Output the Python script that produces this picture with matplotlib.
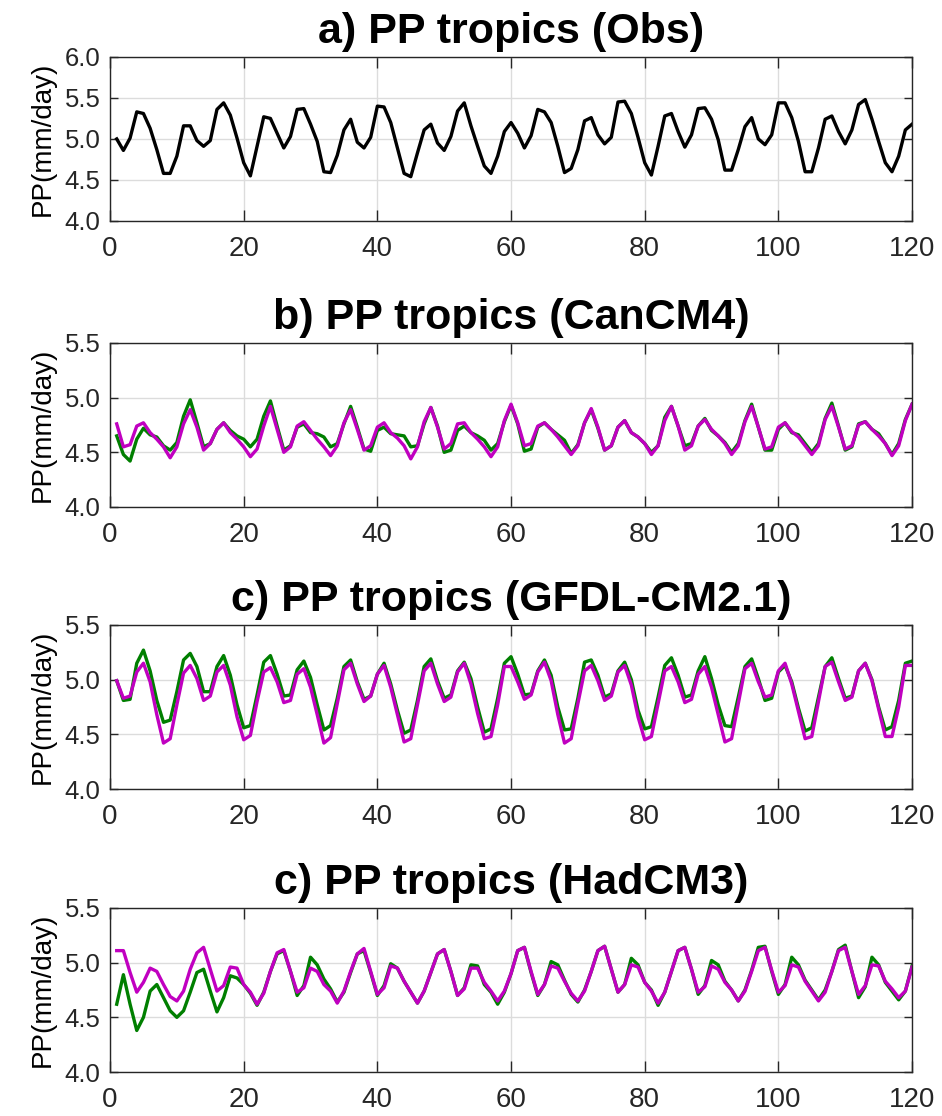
#!/usr/bin/env python3
"""
PP tropics: observed vs. model precipitation series (4 stacked panels).

Run:  python plot.py
"""

import matplotlib as mpl
import matplotlib.pyplot as plt
import numpy as np

for k, v in {
    "font.family": "sans-serif",
    "font.sans-serif": ["Liberation Sans", "Arial", "DejaVu Sans"],
    "font.size": 15,
    "axes.linewidth": 1.0,
    "axes.edgecolor": "#262626",
    "xtick.color": "#262626",
    "ytick.color": "#262626",
    "xtick.labelcolor": "#262626",
    "ytick.labelcolor": "#262626",
    "figure.facecolor": "white",
}.items():
    mpl.rcParams[k] = v

GREEN = "#007f00"
MAGENTA = "#c000c0"
BLACK = "#000000"

# ---- data -------------------------------------------------------------
months = np.arange(1, 121)

obs = [
    5.00, 4.86, 5.01, 5.33, 5.31, 5.13, 4.87, 4.58, 4.58, 4.79,
    5.16, 5.16, 4.98, 4.91, 4.98, 5.36, 5.44, 5.29, 5.01, 4.71,
    4.55, 4.91, 5.27, 5.25, 5.07, 4.89, 5.03, 5.36, 5.37, 5.18,
    4.97, 4.60, 4.59, 4.80, 5.11, 5.24, 4.96, 4.89, 5.02, 5.40,
    5.39, 5.20, 4.89, 4.58, 4.54, 4.83, 5.11, 5.18, 4.95, 4.86,
    5.03, 5.34, 5.44, 5.16, 4.91, 4.67, 4.58, 4.79, 5.09, 5.20,
    5.07, 4.89, 5.04, 5.36, 5.33, 5.20, 4.91, 4.59, 4.64, 4.87,
    5.22, 5.26, 5.05, 4.94, 5.02, 5.45, 5.46, 5.31, 5.02, 4.71,
    4.56, 4.91, 5.28, 5.31, 5.09, 4.90, 5.05, 5.37, 5.38, 5.24,
    4.99, 4.62, 4.62, 4.87, 5.15, 5.26, 5.00, 4.93, 5.05, 5.44,
    5.44, 5.26, 4.97, 4.60, 4.60, 4.89, 5.24, 5.28, 5.09, 4.94,
    5.11, 5.42, 5.48, 5.24, 4.97, 4.71, 4.60, 4.79, 5.11, 5.18,
]

cancm4_green = [
    4.65, 4.48, 4.42, 4.62, 4.72, 4.66, 4.64, 4.56, 4.52, 4.59,
    4.83, 4.98, 4.77, 4.55, 4.58, 4.71, 4.77, 4.70, 4.65, 4.62,
    4.55, 4.62, 4.83, 4.97, 4.74, 4.52, 4.56, 4.73, 4.76, 4.68,
    4.67, 4.64, 4.55, 4.58, 4.76, 4.92, 4.73, 4.53, 4.51, 4.70,
    4.73, 4.67, 4.66, 4.65, 4.55, 4.56, 4.76, 4.91, 4.74, 4.50,
    4.52, 4.70, 4.74, 4.68, 4.65, 4.61, 4.52, 4.58, 4.78, 4.93,
    4.76, 4.51, 4.53, 4.73, 4.77, 4.71, 4.66, 4.61, 4.49, 4.57,
    4.77, 4.89, 4.72, 4.52, 4.56, 4.73, 4.79, 4.68, 4.64, 4.58,
    4.50, 4.56, 4.82, 4.92, 4.74, 4.56, 4.58, 4.74, 4.81, 4.70,
    4.65, 4.59, 4.50, 4.58, 4.79, 4.94, 4.73, 4.52, 4.52, 4.71,
    4.77, 4.68, 4.66, 4.58, 4.50, 4.58, 4.81, 4.95, 4.74, 4.52,
    4.55, 4.76, 4.78, 4.71, 4.67, 4.58, 4.48, 4.58, 4.80, 4.94,
]

cancm4_magenta = [
    4.76, 4.55, 4.57, 4.74, 4.77, 4.68, 4.62, 4.55, 4.45, 4.55,
    4.76, 4.89, 4.73, 4.52, 4.58, 4.71, 4.77, 4.68, 4.62, 4.55,
    4.46, 4.53, 4.74, 4.92, 4.71, 4.50, 4.55, 4.74, 4.78, 4.70,
    4.62, 4.55, 4.47, 4.56, 4.77, 4.89, 4.71, 4.52, 4.56, 4.73,
    4.77, 4.68, 4.63, 4.56, 4.44, 4.55, 4.78, 4.91, 4.73, 4.53,
    4.58, 4.76, 4.77, 4.68, 4.62, 4.55, 4.46, 4.55, 4.79, 4.94,
    4.77, 4.56, 4.58, 4.74, 4.77, 4.71, 4.64, 4.56, 4.48, 4.56,
    4.77, 4.90, 4.73, 4.52, 4.56, 4.73, 4.79, 4.68, 4.64, 4.58,
    4.48, 4.56, 4.79, 4.92, 4.74, 4.52, 4.56, 4.74, 4.80, 4.71,
    4.65, 4.58, 4.48, 4.56, 4.78, 4.92, 4.73, 4.53, 4.55, 4.73,
    4.77, 4.69, 4.64, 4.56, 4.48, 4.56, 4.80, 4.92, 4.73, 4.53,
    4.56, 4.75, 4.78, 4.71, 4.65, 4.58, 4.47, 4.56, 4.79, 4.94,
]

gfdl_green = [
    4.99, 4.81, 4.82, 5.15, 5.27, 5.08, 4.81, 4.61, 4.63, 4.89,
    5.18, 5.24, 5.12, 4.89, 4.89, 5.12, 5.22, 5.04, 4.77, 4.56,
    4.58, 4.86, 5.16, 5.22, 5.05, 4.85, 4.86, 5.09, 5.17, 5.02,
    4.77, 4.54, 4.58, 4.83, 5.12, 5.18, 4.98, 4.82, 4.85, 5.05,
    5.15, 4.96, 4.72, 4.51, 4.54, 4.81, 5.12, 5.19, 4.99, 4.83,
    4.86, 5.08, 5.16, 5.01, 4.75, 4.52, 4.55, 4.83, 5.15, 5.21,
    5.05, 4.86, 4.87, 5.08, 5.18, 5.04, 4.75, 4.54, 4.55, 4.83,
    5.16, 5.18, 5.04, 4.84, 4.87, 5.08, 5.16, 5.00, 4.72, 4.55,
    4.57, 4.84, 5.13, 5.20, 5.04, 4.84, 4.86, 5.08, 5.21, 5.01,
    4.77, 4.58, 4.57, 4.84, 5.12, 5.19, 5.01, 4.81, 4.83, 5.07,
    5.13, 4.98, 4.74, 4.53, 4.56, 4.84, 5.12, 5.20, 5.01, 4.83,
    4.85, 5.08, 5.15, 5.00, 4.75, 4.54, 4.57, 4.81, 5.15, 5.17,
]

gfdl_magenta = [
    4.99, 4.83, 4.85, 5.07, 5.15, 4.98, 4.68, 4.42, 4.46, 4.77,
    5.06, 5.13, 5.01, 4.81, 4.85, 5.07, 5.13, 4.95, 4.66, 4.45,
    4.49, 4.80, 5.07, 5.11, 4.98, 4.79, 4.81, 5.05, 5.10, 4.93,
    4.68, 4.42, 4.47, 4.78, 5.09, 5.15, 4.96, 4.80, 4.85, 5.05,
    5.13, 4.93, 4.68, 4.43, 4.46, 4.77, 5.08, 5.15, 4.96, 4.80,
    4.84, 5.07, 5.15, 4.96, 4.69, 4.46, 4.48, 4.77, 5.12, 5.12,
    4.98, 4.82, 4.86, 5.07, 5.16, 4.99, 4.68, 4.42, 4.46, 4.78,
    5.08, 5.13, 4.99, 4.81, 4.85, 5.07, 5.13, 4.95, 4.66, 4.45,
    4.48, 4.78, 5.08, 5.12, 4.98, 4.79, 4.82, 5.05, 5.12, 4.93,
    4.68, 4.43, 4.46, 4.78, 5.10, 5.15, 4.98, 4.84, 4.86, 5.08,
    5.15, 4.96, 4.71, 4.46, 4.48, 4.80, 5.12, 5.16, 4.98, 4.81,
    4.84, 5.08, 5.15, 4.99, 4.73, 4.48, 4.48, 4.75, 5.13, 5.13,
]

hadcm3_green = [
    4.62, 4.89, 4.62, 4.38, 4.50, 4.74, 4.80, 4.68, 4.56, 4.50,
    4.56, 4.73, 4.91, 4.94, 4.74, 4.55, 4.68, 4.88, 4.86, 4.80,
    4.72, 4.61, 4.73, 4.92, 5.08, 5.11, 4.92, 4.70, 4.79, 5.05,
    4.98, 4.85, 4.76, 4.64, 4.73, 4.91, 5.08, 5.11, 4.91, 4.70,
    4.79, 4.99, 4.95, 4.83, 4.73, 4.63, 4.74, 4.91, 5.08, 5.12,
    4.92, 4.70, 4.77, 4.98, 4.97, 4.80, 4.73, 4.62, 4.73, 4.90,
    5.11, 5.14, 4.91, 4.70, 4.80, 5.01, 4.98, 4.84, 4.71, 4.64,
    4.75, 4.92, 5.11, 5.15, 4.94, 4.73, 4.80, 5.04, 4.98, 4.82,
    4.75, 4.61, 4.73, 4.92, 5.11, 5.14, 4.94, 4.71, 4.79, 5.02,
    4.98, 4.83, 4.75, 4.65, 4.75, 4.93, 5.14, 5.15, 4.92, 4.71,
    4.80, 5.05, 4.98, 4.84, 4.75, 4.66, 4.75, 4.92, 5.12, 5.16,
    4.92, 4.68, 4.78, 5.05, 4.98, 4.82, 4.74, 4.66, 4.74, 4.97,
]

hadcm3_magenta = [
    5.11, 5.11, 4.91, 4.73, 4.82, 4.95, 4.92, 4.80, 4.69, 4.65,
    4.74, 4.94, 5.09, 5.14, 4.94, 4.74, 4.79, 4.96, 4.95, 4.80,
    4.73, 4.62, 4.72, 4.92, 5.09, 5.12, 4.92, 4.73, 4.77, 4.95,
    4.92, 4.80, 4.74, 4.63, 4.74, 4.92, 5.08, 5.13, 4.92, 4.71,
    4.77, 4.97, 4.95, 4.83, 4.73, 4.63, 4.74, 4.91, 5.08, 5.12,
    4.92, 4.70, 4.76, 4.95, 4.95, 4.82, 4.74, 4.65, 4.74, 4.90,
    5.11, 5.14, 4.92, 4.71, 4.80, 4.97, 4.95, 4.83, 4.72, 4.65,
    4.74, 4.92, 5.11, 5.15, 4.94, 4.73, 4.80, 4.98, 4.96, 4.82,
    4.74, 4.63, 4.73, 4.92, 5.11, 5.14, 4.94, 4.73, 4.78, 4.97,
    4.94, 4.82, 4.75, 4.65, 4.74, 4.92, 5.11, 5.14, 4.93, 4.73,
    4.79, 4.98, 4.96, 4.83, 4.74, 4.65, 4.73, 4.92, 5.11, 5.14,
    4.92, 4.71, 4.79, 4.98, 4.97, 4.83, 4.76, 4.68, 4.74, 4.96,
]

titles = [
    "a) PP tropics (Obs)",
    "b) PP tropics (CanCM4)",
    "c) PP tropics (GFDL-CM2.1)",
    "c) PP tropics (HadCM3)",
]
ylims = [(4.0, 6.0), (4.0, 5.5), (4.0, 5.5), (4.0, 5.5)]
xticks = [0, 20, 40, 60, 80, 100, 120]


def style_axes(ax, title, ylim):
    ax.set_xlim(0, 120)
    ax.set_ylim(*ylim)
    ax.set_xticks(xticks)
    ax.set_yticks(np.arange(ylim[0], ylim[1] + 0.01, 0.5))
    ax.yaxis.set_major_formatter(mpl.ticker.FormatStrFormatter("%.1f"))
    ax.grid(True, color="#dcdcdc", lw=1.0)
    ax.set_axisbelow(True)
    ax.tick_params(axis="x", direction="in", length=8, width=1.0,
                   pad=11, labelsize=20, top=True)
    ax.tick_params(axis="y", direction="in", length=6, width=1.0,
                   pad=7, labelsize=18.5, right=True)
    ax.set_ylabel("PP(mm/day)", fontsize=20, labelpad=6)
    ax.set_title(title, fontsize=31, fontweight="bold", pad=10)


def main():
    fig = plt.figure(figsize=(9.42, 11.16), dpi=100)

    left, width, height = 0.1168, 0.8514, 0.147
    bottoms = [0.802, 0.5457, 0.293, 0.0394]
    axes = [fig.add_axes([left, b, width, height]) for b in bottoms]

    axes[0].plot(months, obs, color=BLACK, lw=2.4)

    pairs = [
        (cancm4_green, cancm4_magenta),
        (gfdl_green, gfdl_magenta),
        (hadcm3_green, hadcm3_magenta),
    ]
    for ax, (g, m) in zip(axes[1:], pairs):
        ax.plot(months, g, color=GREEN, lw=2.4)
        ax.plot(months, m, color=MAGENTA, lw=2.4)

    for ax, title, ylim in zip(axes, titles, ylims):
        style_axes(ax, title, ylim)

    fig.savefig("out.png", dpi=100)
    plt.close(fig)


if __name__ == "__main__":
    main()
